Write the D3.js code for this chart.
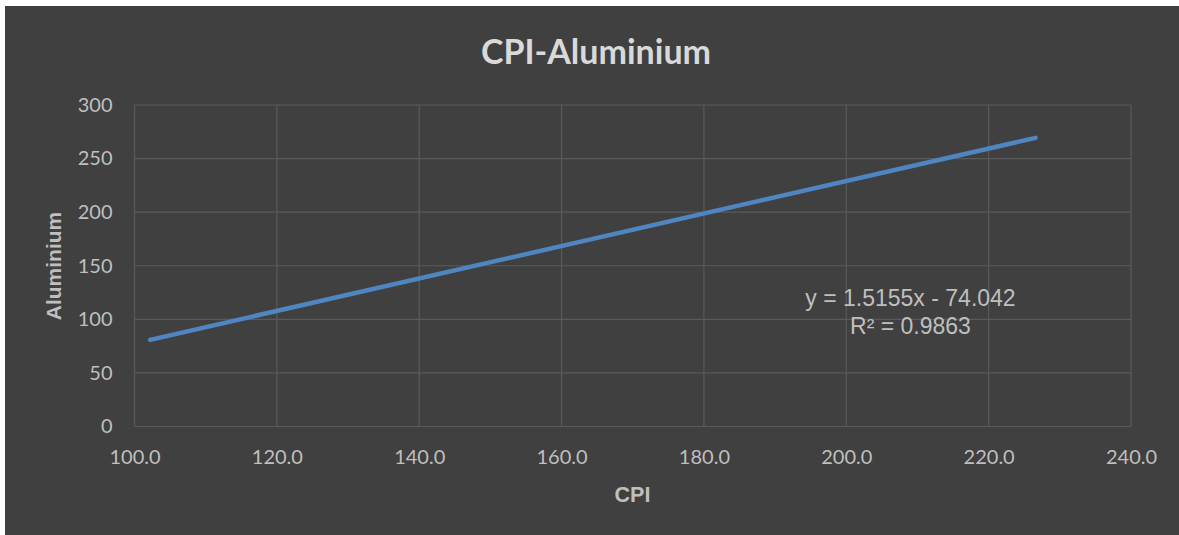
<!DOCTYPE html>
<html>
<head>
<meta charset="utf-8">
<script src="https://cdn.jsdelivr.net/npm/d3@7"></script>
<style>
  html, body { margin: 0; padding: 0; background: #ffffff; }
  svg { display: block; }
</style>
</head>
<body>
<svg id="chart" width="1179" height="535"></svg>
<script>
// Fitted regression of Aluminium on CPI
const cpiRange = [102.2, 226.6];
const slope = 1.5155;
const intercept = -74.042;
const rSquared = 0.9863;

// Axis ticks
const xTicks = [100, 120, 140, 160, 180, 200, 220, 240];
const yTicks = [0, 50, 100, 150, 200, 250, 300];

const W = 1179, H = 535;
const svg = d3.select("#chart");

// dark chart area (thin light margin on top/left)
svg.append("rect").attr("x", 5).attr("y", 6).attr("width", W - 5).attr("height", H - 6)
  .attr("fill", "#404040");

const plot = { left: 134.5, right: 1131, top: 105, bottom: 426.5 };

const x = d3.scaleLinear().domain([100, 240]).range([plot.left, plot.right]);
const y = d3.scaleLinear().domain([0, 300]).range([plot.bottom, plot.top]);

const gridColor = "#5a5a5a";
const tickColor = "#bfbfbf";

// gridlines
svg.append("g").selectAll("line.v").data(xTicks).join("line")
  .attr("x1", d => x(d)).attr("x2", d => x(d))
  .attr("y1", plot.top).attr("y2", plot.bottom)
  .attr("stroke", gridColor).attr("stroke-width", 1.2);
svg.append("g").selectAll("line.h").data(yTicks).join("line")
  .attr("x1", plot.left).attr("x2", plot.right)
  .attr("y1", d => y(d)).attr("y2", d => y(d))
  .attr("stroke", gridColor).attr("stroke-width", 1.2);

// axes (labels only, no domain path)
const xAxis = svg.append("g")
  .attr("transform", `translate(0,${plot.bottom})`)
  .call(d3.axisBottom(x).tickValues(xTicks).tickFormat(d3.format(".1f")).tickSize(0).tickPadding(23));
const yAxis = svg.append("g")
  .attr("transform", `translate(${plot.left},0)`)
  .call(d3.axisLeft(y).tickValues(yTicks).tickSize(0).tickPadding(22));
[xAxis, yAxis].forEach(a => {
  a.select(".domain").remove();
  a.selectAll("text").attr("fill", tickColor)
    .style("font-family", "Lato, 'Open Sans', sans-serif").style("font-size", "20px");
});

// regression line
const line = d3.line().x(d => x(d)).y(d => y(slope * d + intercept));
svg.append("path").datum(cpiRange)
  .attr("d", line)
  .attr("fill", "none")
  .attr("stroke", "#4f86c1")
  .attr("stroke-width", 4.5)
  .attr("stroke-linecap", "round");

// title
svg.append("text").attr("x", 596).attr("y", 64)
  .attr("text-anchor", "middle")
  .attr("fill", "#d9d9d9")
  .style("font-family", "Lato, 'Open Sans', sans-serif")
  .style("font-weight", "bold").style("font-size", "34px")
  .text("CPI-Aluminium");

// axis titles
svg.append("text").attr("x", 632.5).attr("y", 502)
  .attr("text-anchor", "middle").attr("fill", tickColor)
  .style("font-family", "'Liberation Sans', Arial, sans-serif")
  .style("font-weight", "bold").style("font-size", "21.5px")
  .text("CPI");
svg.append("text")
  .attr("transform", "translate(61,266) rotate(-90)")
  .attr("text-anchor", "middle").attr("fill", tickColor)
  .style("font-family", "'Liberation Sans', Arial, sans-serif")
  .style("font-weight", "bold").style("font-size", "21px")
  .text("Aluminium");

// regression equation label
const eq = svg.append("text").attr("text-anchor", "middle").attr("fill", tickColor)
  .style("font-family", "'Liberation Sans', Arial, sans-serif").style("font-size", "23px");
eq.append("tspan").attr("x", 910.5).attr("y", 306)
  .text(`y = ${slope}x - ${Math.abs(intercept)}`);
eq.append("tspan").attr("x", 910.5).attr("y", 334)
  .text(`R² = ${rSquared}`);
</script>
</body>
</html>
